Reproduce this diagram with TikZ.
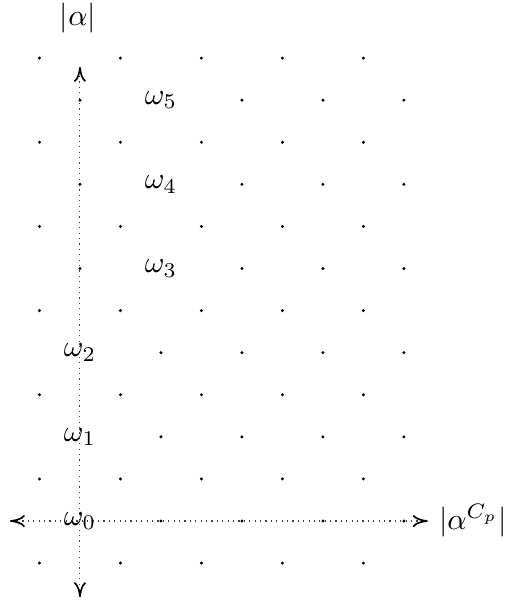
\documentclass[tikz,border=0pt]{standalone}
\usetikzlibrary{arrows.meta}
\begin{document}
\begin{tikzpicture}[x=13.5pt,y=14.03pt,
  latdot/.style={fill=black,circle,inner sep=0pt,minimum size=1.1pt},
  axis/.style={draw=black!75,dash pattern=on 0.4pt off 1.4pt,line width=0.35pt,
    {To[length=5pt,width=4pt,line width=0.55pt,color=black]}-{To[length=5pt,width=4pt,line width=0.55pt,color=black]}},
  wlabel/.style={inner sep=0pt}]
\useasboundingbox (-1.975,-1.996) rectangle (10.519,12.381);
\coordinate (L) at (-1.73,0);
\coordinate (R) at (8.59,0);
\coordinate (B) at (0,-1.81);
\coordinate (T) at (0,10.79);
\draw[axis] (L) -- (R);
\draw[axis] (B) -- (T);
\foreach \j in {-1,...,11}{
  \foreach \i in {-1,...,8}{
    \pgfmathtruncatemacro{\myparity}{mod(\i+\j+100,2)}
    \pgfmathtruncatemacro{\skipit}{(\i==0 && \j==0) || (\i==0 && \j==2) || (\i==0 && \j==4) || (\i==2 && \j==6) || (\i==2 && \j==8) || (\i==2 && \j==10)}
    \ifnum\myparity=0
      \ifnum\skipit=0
        \node[latdot] (d\i\j) at (\i,\j) {};
      \fi
    \fi
  }
}
\node[wlabel] (w0) at (0,0) {$\omega_0$};
\node[wlabel] (w1) at (0,2) {$\omega_1$};
\node[wlabel] (w2) at (0,4) {$\omega_2$};
\node[wlabel] (w3) at (2,6) {$\omega_3$};
\node[wlabel] (w4) at (2,8) {$\omega_4$};
\node[wlabel] (w5) at (2,10) {$\omega_5$};
\node (alab) at (-0.05,11.95) {$|\alpha|$};
\node (clab) at (9.7,0) {$|\alpha^{C_p}|$};
\end{tikzpicture}
\end{document}
